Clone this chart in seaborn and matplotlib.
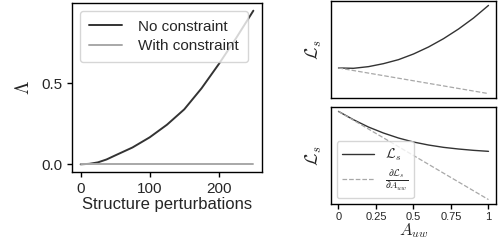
"""Constraint vs. no-constraint perturbation figure with loss sketches."""

import matplotlib

matplotlib.use("Agg")
import matplotlib.pyplot as plt
import pandas as pd
import seaborn as sns

# ---------------------------------------------------------------------------
# Data
# ---------------------------------------------------------------------------

perturbations = [0, 12.5, 25, 37.5, 50, 75, 100, 125, 150, 175, 200, 225, 250]
lambda_no_constraint = [0.0, 0.003, 0.012, 0.03, 0.055, 0.104, 0.167, 0.245,
                        0.34, 0.47, 0.62, 0.78, 0.95]
lambda_with_constraint = [0.0] * len(perturbations)

a_uw = [0.0, 0.1, 0.2, 0.3, 0.4, 0.5, 0.6, 0.7, 0.8, 0.9, 1.0]
loss_top = [1.00, 0.99, 1.04, 1.13, 1.25, 1.42, 1.63, 1.88, 2.17, 2.50, 2.88]
tangent_top = [1.00, 0.23]
loss_bottom = [3.00, 2.75, 2.53, 2.35, 2.20, 2.08, 1.99, 1.92, 1.87, 1.83, 1.80]
tangent_bottom = [3.00, 0.35]
tangent_x = [0.0, 1.0]

DARK = "#333333"
LIGHT = "#a8a8a8"

# ---------------------------------------------------------------------------
# Style
# ---------------------------------------------------------------------------

sns.set_style("ticks")
plt.rcParams["font.family"] = ["Liberation Sans", "DejaVu Sans"]
plt.rcParams["mathtext.fontset"] = "cm"
plt.rcParams["axes.edgecolor"] = "black"
plt.rcParams["axes.linewidth"] = 1.0

fig = plt.figure(figsize=(5.02, 2.43), dpi=100)

# ---------------------------------------------------------------------------
# Left: Lambda vs structure perturbations
# ---------------------------------------------------------------------------

ax = fig.add_axes([72 / 502, 1 - 172 / 243, 190 / 502, 169 / 243])
left_df = pd.DataFrame(
    {
        "x": perturbations * 2,
        "y": lambda_no_constraint + lambda_with_constraint,
        "series": ["No constraint"] * len(perturbations)
        + ["With constraint"] * len(perturbations),
    }
)
sns.lineplot(
    data=left_df,
    x="x",
    y="y",
    hue="series",
    palette=[DARK, LIGHT],
    linewidth=1.4,
    ax=ax,
)
ax.set_xticks([0, 100, 200])
ax.set_yticks([0.0, 0.5])
ax.set_yticklabels(["0.0", "0.5"])
ax.tick_params(labelsize=11, length=3.5, width=1, color="black")
ax.set_xlabel("Structure perturbations", fontsize=12, labelpad=1)
ax.set_ylabel(r"$\Lambda$", fontsize=14, labelpad=6)
ax.legend(
    loc="upper left",
    fontsize=11,
    frameon=True,
    handlelength=2.2,
    handletextpad=1.0,
    borderpad=0.6,
    labelspacing=0.35,
)

# ---------------------------------------------------------------------------
# Right: loss sketches
# ---------------------------------------------------------------------------

ax_top = fig.add_axes([331 / 502, 1 - 98 / 243, 165 / 502, 97 / 243])
ax_bot = fig.add_axes([331 / 502, 1 - 204 / 243, 165 / 502, 97 / 243])

for panel, loss, tangent in [
    (ax_top, loss_top, tangent_top),
    (ax_bot, loss_bottom, tangent_bottom),
]:
    sns.lineplot(x=a_uw, y=loss, color=DARK, linewidth=1.0, ax=panel,
                 label=r"$\mathcal{L}_s$")
    sns.lineplot(x=tangent_x, y=tangent, color=LIGHT, linewidth=0.9,
                 linestyle="--", ax=panel,
                 label=r"$\frac{\partial \mathcal{L}_s}{\partial A_{uw}}$")
    panel.set_yticks([])
    panel.set_ylabel(r"$\mathcal{L}_s$", fontsize=13, labelpad=5)

ax_top.set_xticks([])
ax_top.get_legend().remove()

ax_bot.set_xticks([0, 0.25, 0.5, 0.75, 1])
ax_bot.set_xticklabels(["0", "0.25", "0.5", "0.75", "1"])
ax_bot.tick_params(axis="x", labelsize=8, length=3.5, width=1, color="black", pad=2)
ax_bot.set_xlabel(r"$A_{uw}$", fontsize=12, labelpad=0)
ax_bot.legend(
    loc="lower left",
    fontsize=10,
    frameon=True,
    handlelength=2.3,
    borderpad=0.4,
    labelspacing=0.3,
    borderaxespad=0.4,
)

fig.savefig("out.png", dpi=100)
plt.close(fig)
